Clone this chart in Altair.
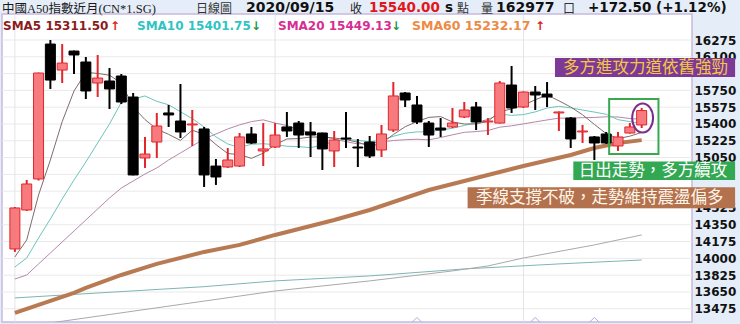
import altair as alt
import pandas as pd

# ---------------- data ----------------
OPEN = [14098, 14504, 14827, 16233, 15962, 16160, 16046, 15827, 15848, 15900,
        15681, 15046, 15212, 15515, 15431, 15390, 15348, 14962, 14952, 14962,
        15296, 15119, 15160, 15369, 15410, 15317, 15306, 15119, 15254, 15160,
        15212, 15129, 15337, 15723, 15598, 15410, 15358, 15369, 15473, 15577,
        15421, 15410, 15806, 15577, 15733, 15712, 15515, 15462, 15317, 15265,
        15296, 15171, 15306, 15390]
HIGH = [14535, 14817, 15935, 16275, 16233, 16165, 16098, 16119, 15983, 15921,
        15723, 15265, 15515, 15598, 15817, 15546, 15369, 15035, 15150, 15306,
        15369, 15410, 15410, 15525, 15431, 15421, 15310, 15327, 15525, 15244,
        15275, 15390, 15837, 15733, 15692, 15431, 15462, 15567, 15629, 15629,
        15462, 15848, 16004, 15740, 15796, 15837, 15530, 15473, 15390, 15275,
        15317, 15317, 15410, 15567]
LOW = [14067, 14494, 14811, 15765, 15827, 15921, 15660, 15681, 15556, 15608,
       14865, 14942, 15046, 15369, 15254, 15171, 14744, 14765, 14942, 14952,
       15192, 14962, 15150, 15265, 15150, 15056, 14921, 14952, 15150, 14952,
       15046, 15056, 15317, 15577, 15400, 15160, 15265, 15358, 15462, 15337,
       15285, 15405, 15515, 15567, 15546, 15577, 15327, 15150, 15202, 15025,
       15192, 15119, 15300, 15358]
CLOSE = [14525, 14775, 15931, 15858, 16035, 16119, 15744, 15879, 15765, 15629,
         14869, 15087, 15379, 15494, 15317, 15400, 14869, 14848, 15025, 15265,
         15202, 15140, 15285, 15327, 15285, 15285, 15140, 15233, 15244, 15150,
         15067, 15296, 15692, 15650, 15421, 15285, 15337, 15410, 15546, 15421,
         15431, 15827, 15567, 15733, 15702, 15681, 15525, 15244, 15327, 15202,
         15202, 15265, 15369, 15540]

SMA5 = [14015, 14192, 14660, 15025, 15425, 15744, 15937, 15927, 15908, 15827,
        15577, 15446, 15346, 15292, 15229, 15335, 15292, 15186, 15092, 15081,
        15042, 15096, 15183, 15244, 15248, 15264, 15264, 15254, 15237, 15210,
        15167, 15198, 15290, 15371, 15425, 15469, 15477, 15421, 15400, 15400,
        15429, 15527, 15558, 15596, 15652, 15702, 15642, 15577, 15496, 15396,
        15300, 15248, 15273, 15312]
SMA10 = [13910, 14004, 14212, 14410, 14619, 14817, 15004, 15202, 15400, 15626,
         15660, 15692, 15636, 15600, 15528, 15456, 15369, 15266, 15192, 15155,
         15189, 15194, 15185, 15168, 15165, 15153, 15180, 15219, 15241, 15229,
         15216, 15231, 15272, 15304, 15318, 15318, 15338, 15355, 15385, 15413,
         15449, 15502, 15490, 15498, 15526, 15566, 15584, 15568, 15546, 15524,
         15501, 15445, 15425, 15402]
SMA20 = [13785, 13827, 13942, 14056, 14171, 14285, 14400, 14515, 14629, 14733,
         14806, 14879, 14942, 15025, 15098, 15171, 15244, 15296, 15348, 15391,
         15425, 15443, 15410, 15384, 15346, 15305, 15275, 15242, 15216, 15192,
         15202, 15213, 15228, 15236, 15241, 15235, 15259, 15287, 15313, 15321,
         15332, 15367, 15381, 15401, 15422, 15442, 15461, 15461, 15466, 15468,
         15475, 15473, 15457, 15449]

SMA60_IDX = [0, 5, 6, 9, 12, 16, 19, 22, 24, 27, 30, 35, 38, 43, 47, 49, 51, 53]
SMA60_VAL = [13431, 13640, 13692, 13827, 13942, 14067, 14140, 14244, 14306, 14400,
             14504, 14712, 14806, 14962, 15077, 15150, 15202, 15232]

LONG_A_IDX = [0, 16, 22, 30, 38, 46, 53]
LONG_A_VAL = [13588, 13705, 13765, 13817, 13890, 13942, 13983]
LONG_B_IDX = [0, 22, 30, 37, 40, 43, 49, 53]
LONG_B_VAL = [13275, 13660, 13765, 13869, 13921, 14004, 14140, 14244]

GRID_TICKS = [13475, 13650, 13825, 14000, 14175, 14350, 14525, 14700, 14875,
              15050, 15225, 15400, 15575, 15750, 15925, 16100, 16275]
# labels hidden behind the annotation boxes in the reference are not drawn
LABEL_TICKS = [13475, 13650, 13825, 14000, 14175, 14350, 14525,
               15050, 15225, 15400, 15575, 15750, 16100, 16275]
MONTH_LINES = [0, 22, 43]
EVENT_IDX = [34, 44, 49]

# ---------------- scales ----------------
XS = alt.Scale(domain=[-0.667, 56.833], nice=False, zero=False)
YS = alt.Scale(domain=[13337, 16546], nice=False, zero=False)
YAX = alt.Axis(orient="right", values=LABEL_TICKS, format="d", labelFont="DejaVu Sans",
               labelFontWeight="bold", labelFontSize=12, labelColor="#111111",
               grid=False, domain=False, ticks=False, tickSize=0, labelPadding=2,
               title=None, labelBound=False, labelOverlap=False)


def X(f="idx"):
    return alt.X(f"{f}:Q", scale=XS, axis=None)


def Y(f):
    return alt.Y(f"{f}:Q", scale=YS, axis=YAX)


n = len(CLOSE)
candles = pd.DataFrame({"idx": list(range(n)), "open": OPEN, "high": HIGH,
                        "low": LOW, "close": CLOSE})
candles["dir"] = ["up" if c >= o else "down" for o, c in zip(OPEN, CLOSE)]

thin = pd.concat([
    pd.DataFrame({"idx": list(range(n)), "v": SMA20, "s": "SMA20"}),
    pd.DataFrame({"idx": list(range(n)), "v": SMA10, "s": "SMA10"}),
    pd.DataFrame({"idx": list(range(n)), "v": SMA5, "s": "SMA5"}),
])
longs = pd.concat([
    pd.DataFrame({"idx": LONG_A_IDX, "v": LONG_A_VAL, "s": "A"}),
    pd.DataFrame({"idx": LONG_B_IDX, "v": LONG_B_VAL, "s": "B"}),
])
sma60 = pd.DataFrame({"idx": SMA60_IDX, "v": SMA60_VAL})

stroke_scale = alt.Scale(domain=["up", "down"], range=["#e0262b", "#000000"])
fill_scale = alt.Scale(domain=["up", "down"], range=["#f77b7e", "#000000"])
line_scale = alt.Scale(domain=["A", "B", "SMA5", "SMA10", "SMA20"],
                       range=["#7db6b3", "#a9a9a9", "#7f6c6c", "#6cc5bb", "#b687aa"])

layers = []

# horizontal grid lines
layers.append(alt.Chart(pd.DataFrame({"v": GRID_TICKS})).mark_rule(
    color="#e9e9e9", strokeWidth=1).encode(y=Y("v")))

# vertical month grid lines
layers.append(alt.Chart(pd.DataFrame({"idx": MONTH_LINES})).mark_rule(
    color="#dfe4ea", strokeWidth=1).encode(x=X()))

# long moving averages
layers.append(alt.Chart(longs).mark_line(strokeWidth=1, clip=True).encode(
    x=X(), y=Y("v"), detail="s:N",
    color=alt.Color("s:N", scale=line_scale, legend=None)))

# short moving averages
layers.append(alt.Chart(thin).mark_line(strokeWidth=1, clip=True).encode(
    x=X(), y=Y("v"), detail="s:N",
    color=alt.Color("s:N", scale=line_scale, legend=None)))

# SMA60 thick
layers.append(alt.Chart(sma60).mark_line(strokeWidth=4, color="#b87a53", clip=True).encode(
    x=X(), y=Y("v")))

# candle wicks
layers.append(alt.Chart(candles).mark_rule(strokeWidth=2, clip=True).encode(
    x=X(), y=Y("low"), y2="high:Q",
    stroke=alt.Stroke("dir:N", scale=stroke_scale, legend=None)))

# candle bodies
layers.append(alt.Chart(candles).mark_bar(size=10, strokeWidth=1, clip=True).encode(
    x=X(), y=Y("open"), y2="close:Q",
    fill=alt.Fill("dir:N", scale=fill_scale, legend=None),
    stroke=alt.Stroke("dir:N", scale=stroke_scale, legend=None)))

# event markers at the bottom
layers.append(alt.Chart(pd.DataFrame({"idx": EVENT_IDX, "v": [13360] * len(EVENT_IDX)})).mark_point(
    shape="M -1 0.5 L 0 -0.5 L 1 0.5", filled=False, size=90, color="#b9a7d8",
    strokeWidth=1, opacity=1).encode(x=X(), y=Y("v")))

# green highlight rectangle
layers.append(alt.Chart(pd.DataFrame({"x0": [50.25], "x1": [54.42], "y0": [15660], "y1": [15087]}))
              .mark_rect(fillOpacity=0, stroke="#3aa84f", strokeWidth=2)
              .encode(x=X("x0"), x2="x1:Q", y=Y("y0"), y2="y1:Q"))

# purple ellipse around the last candle
ELLIPSE = ("M -0.72 0 C -0.72 -0.5523 -0.3977 -1 0 -1 C 0.3977 -1 0.72 -0.5523 0.72 0 "
           "C 0.72 0.5523 0.3977 1 0 1 C -0.3977 1 -0.72 0.5523 -0.72 0 Z")
layers.append(alt.Chart(pd.DataFrame({"idx": [53.08], "v": [15462]})).mark_point(
    shape=ELLIPSE, filled=False, size=841, color="#7b2d8e", strokeWidth=2, opacity=1
).encode(x=X(), y=Y("v")))

# annotation boxes
BOXES = [
    # x0, x1, y0, y1, text, text_x, text_y, fill, text colour
    (45.67, 60.9, 16087, 15890, "多方進攻力道依舊強勁", 53.33, 15988, "#7c3a96", "#f4c645"),
    (47.22, 60.9, 15008, 14817, "日出走勢，多方續攻", 53.96, 14912, "#33a852", "#ffffff"),
    (38.28, 60.9, 14741, 14522, "季線支撐不破，走勢維持震盪偏多", 49.46, 14631, "#b3714d", "#fff6ea"),
]
for x0, x1, y0, y1, t, tx, ty, fc, tc in BOXES:
    layers.append(alt.Chart(pd.DataFrame({"x0": [x0], "x1": [x1], "y0": [y0], "y1": [y1]}))
                  .mark_rect(color=fc, opacity=1)
                  .encode(x=X("x0"), x2="x1:Q", y=Y("y0"), y2="y1:Q"))
    layers.append(alt.Chart(pd.DataFrame({"idx": [tx], "v": [ty], "t": [t]}))
                  .mark_text(font="Noto Sans CJK TC", fontSize=16.5, color=tc,
                             align="center", baseline="middle")
                  .encode(x=X(), y=Y("v"), text="t:N"))

# header texts: (text, x, y, font, size, weight, colour)
CJK = "Noto Sans CJK TC"
LAT = "DejaVu Sans"
HEADER = [
    ("中國A50指數近月(CN*1.SG)", 2, 8.5, "Liberation Serif, Noto Sans CJK TC", 12.5, "normal", "#1b1b1b"),
    ("日線圖", 196, 8.5, CJK, 12, "normal", "#333333"),
    ("2020/09/15", 246, 8, LAT, 14, "bold", "#111111"),
    ("收", 350, 8.5, CJK, 12, "normal", "#222222"),
    ("15540.00", 369, 8, LAT, 13.5, "bold", "#e3161b"),
    ("s", 445, 8, LAT, 13.5, "bold", "#111111"),
    ("點", 457, 8.5, CJK, 12, "normal", "#333333"),
    ("量", 481, 8.5, CJK, 12, "normal", "#333333"),
    ("162977", 496, 8, LAT, 14, "bold", "#111111"),
    ("口", 563, 8.5, CJK, 12, "normal", "#333333"),
    ("+172.50 (+1.12%)", 588, 8, LAT, 13.5, "bold", "#111111"),
    ("SMA5 15311.50", 3, 26, LAT, 12, "bold", "#8b1c1c"),
    ("↑", 110, 26, LAT, 12, "bold", "#e02020"),
    ("SMA10 15401.75", 137, 26, LAT, 12, "bold", "#2fc4c4"),
    ("↓", 251, 26, LAT, 12, "bold", "#1e9a3c"),
    ("SMA20 15449.13", 278, 26, LAT, 12, "bold", "#d62f92"),
    ("↓", 391, 26, LAT, 12, "bold", "#1e9a3c"),
    ("SMA60 15232.17", 412, 26, LAT, 12.5, "bold", "#ec8a46"),
    ("↑", 535, 26, LAT, 12, "bold", "#e02020"),
]
PAD_L, PAD_T = 2, 14
for t, hx, hy, fnt, fs, fw, col in HEADER:
    layers.append(alt.Chart(pd.DataFrame({"t": [t]})).mark_text(
        font=fnt, fontSize=fs, fontWeight=fw, color=col, align="left", baseline="middle"
    ).encode(text="t:N", x=alt.value(hx - PAD_L), y=alt.value(hy - PAD_T)))

chart = alt.layer(*layers).properties(
    width=690, height=308, background="#e5eef8",
    padding={"left": PAD_L, "top": PAD_T, "right": 48, "bottom": 2},
    autosize=alt.AutoSizeParams(type="none"),
).configure_view(fill="white", stroke="#c7b9de", strokeWidth=1.5)

chart.save("out.html", embed_options={"renderer": "svg", "actions": False})
